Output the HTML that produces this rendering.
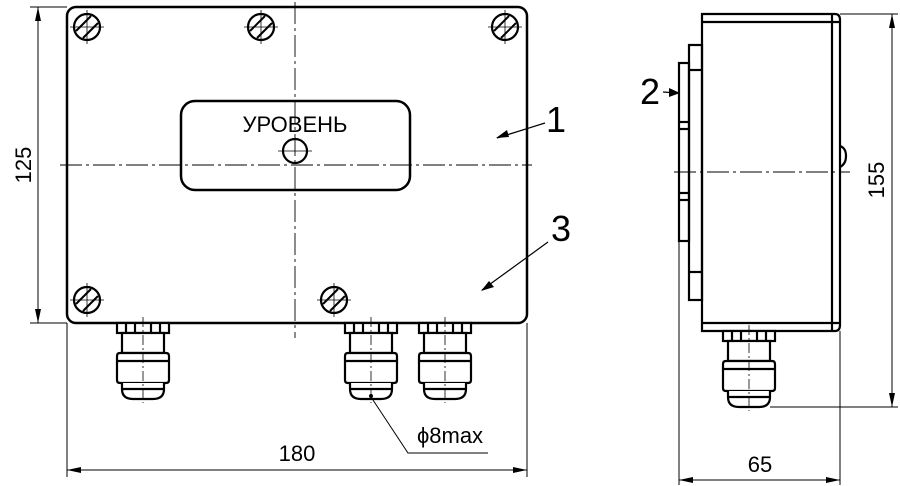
<!DOCTYPE html><html><head><style>body{margin:0;background:#fff}svg{display:block}</style></head><body>
<svg width="900" height="486" viewBox="0 0 900 486" xmlns="http://www.w3.org/2000/svg" font-family="Liberation Sans, DejaVu Sans, sans-serif">
<defs>
<g id="screw"><circle r="13" fill="#fff" stroke="#000" stroke-width="2.2"/><line x1="-11" y1="4" x2="4" y2="-11" stroke="#000" stroke-width="2"/><line x1="-4" y1="11" x2="11" y2="-4" stroke="#000" stroke-width="2"/><line x1="-17" y1="0" x2="17" y2="0" stroke="#000" stroke-width="0.8"/><line x1="0" y1="-17" x2="0" y2="17" stroke="#000" stroke-width="0.8"/></g>
<g id="gland" fill="#fff" stroke="#000" stroke-width="2.2">
<rect x="-26" y="0" width="52" height="10"/>
<line x1="-17" y1="0" x2="-17" y2="10"/><line x1="-8" y1="0" x2="-8" y2="10"/><line x1="8" y1="0" x2="8" y2="10"/><line x1="17" y1="0" x2="17" y2="10"/>
<rect x="-21" y="10" width="42" height="20"/>
<path d="M-26 33 Q-26 30 -23 30 H23 Q26 30 26 33 V57 Q26 60 23 60 H-23 Q-26 60 -26 57 Z"/>
<line x1="-26" y1="38" x2="26" y2="38"/>
<path d="M-21 60 V66 Q-21 76 -10 76 H10 Q21 76 21 66 V60"/>
<line x1="-21" y1="66" x2="21" y2="66"/>
<line x1="0" y1="-6" x2="0" y2="80" stroke-width="0.8" stroke-dasharray="10 3 2 3"/>
</g>
</defs>
<rect x="67" y="7" width="460" height="316" rx="9" fill="none" stroke="#000" stroke-width="2.5"/>
<rect x="181" y="101" width="229" height="89" rx="14" fill="none" stroke="#000" stroke-width="2.5"/>
<line x1="295" y1="2" x2="295" y2="338" stroke="#000" stroke-width="0.9" stroke-dasharray="22 4 3 4"/>
<line x1="60" y1="165" x2="532" y2="165" stroke="#000" stroke-width="0.9" stroke-dasharray="22 4 3 4"/>
<text x="295" y="132" font-size="22" text-anchor="middle">УРОВЕНЬ</text>
<circle cx="295" cy="151" r="12" fill="none" stroke="#000" stroke-width="2.2"/>
<line x1="278" y1="151" x2="312" y2="151" stroke="#000" stroke-width="0.8"/>
<use href="#screw" x="87" y="27"/><use href="#screw" x="261" y="27"/><use href="#screw" x="505" y="27"/>
<use href="#screw" x="87" y="300"/><use href="#screw" x="334" y="300"/>
<use href="#gland" x="143" y="323"/><use href="#gland" x="371" y="323"/><use href="#gland" x="445" y="323"/>
<text x="556" y="132" font-size="36" text-anchor="middle">1</text>
<line x1="545" y1="123" x2="497" y2="138" stroke="#000" stroke-width="1.2"/><path d="M496 138 L507 130 L509 137 Z"/>
<text x="561" y="241" font-size="36" text-anchor="middle">3</text>
<line x1="548" y1="242" x2="482" y2="290" stroke="#000" stroke-width="1.2"/><path d="M481 291 L489 281 L494 287 Z"/>
<g stroke="#000" stroke-width="1">
<line x1="30" y1="7" x2="67" y2="7"/><line x1="30" y1="323" x2="67" y2="323"/><line x1="38" y1="7" x2="38" y2="323"/>
<line x1="67" y1="323" x2="67" y2="477"/><line x1="527" y1="323" x2="527" y2="477"/><line x1="67" y1="470" x2="527" y2="470"/>
<polyline points="371,397 408,453 488,453" fill="none"/>
</g>
<path d="M38 7 L35 21 L41 21Z M38 323 L35 309 L41 309Z M67 470 L81 467 L81 473Z M527 470 L513 467 L513 473Z"/>
<circle cx="371" cy="396" r="2"/>
<text x="24" y="165" font-size="22" text-anchor="middle" transform="rotate(-90 24 165)" dy="7">125</text>
<text x="297" y="461" font-size="22" text-anchor="middle">180</text>
<text x="450" y="443" font-size="22" text-anchor="middle">ϕ8max</text>
<g fill="none" stroke="#000" stroke-width="2.2">
<path d="M702 14 H835 Q840 14 840 20 V325 Q840 331 835 331 H702 Z"/>
<line x1="702" y1="22" x2="840" y2="22"/><line x1="702" y1="323" x2="840" y2="323"/><line x1="832" y1="14" x2="832" y2="331"/>
<rect x="689" y="45" width="13" height="255"/><line x1="689" y1="70" x2="702" y2="70"/><line x1="689" y1="272" x2="702" y2="272"/>
<rect x="679" y="63" width="10" height="178"/><line x1="679" y1="122" x2="689" y2="122"/><line x1="679" y1="129" x2="689" y2="129"/><line x1="679" y1="193" x2="689" y2="193"/><line x1="679" y1="200" x2="689" y2="200"/>
<path d="M840 146 Q846 148 846 156 Q846 164 840 167"/>
</g>
<line x1="674" y1="172" x2="850" y2="172" stroke="#000" stroke-width="0.9" stroke-dasharray="22 4 3 4"/>
<use href="#gland" x="749" y="331"/>
<text x="650" y="104" font-size="36" text-anchor="middle">2</text>
<line x1="663" y1="92" x2="678" y2="93" stroke="#000" stroke-width="1.2"/><path d="M680 93 L669 88 L669 97Z"/>
<g stroke="#000" stroke-width="1">
<line x1="840" y1="14" x2="898" y2="14"/><line x1="770" y1="407" x2="898" y2="407"/><line x1="892" y1="14" x2="892" y2="407"/>
<line x1="679" y1="241" x2="679" y2="485"/><line x1="840" y1="331" x2="840" y2="485"/><line x1="679" y1="480" x2="840" y2="480"/>
</g>
<path d="M892 14 L889 28 L895 28Z M892 407 L889 393 L895 393Z M679 480 L693 477 L693 483Z M840 480 L826 477 L826 483Z"/>
<text x="877" y="180" font-size="22" text-anchor="middle" transform="rotate(-90 877 180)" dy="7">155</text>
<text x="760" y="472" font-size="22" text-anchor="middle">65</text>
</svg>
</body></html>
